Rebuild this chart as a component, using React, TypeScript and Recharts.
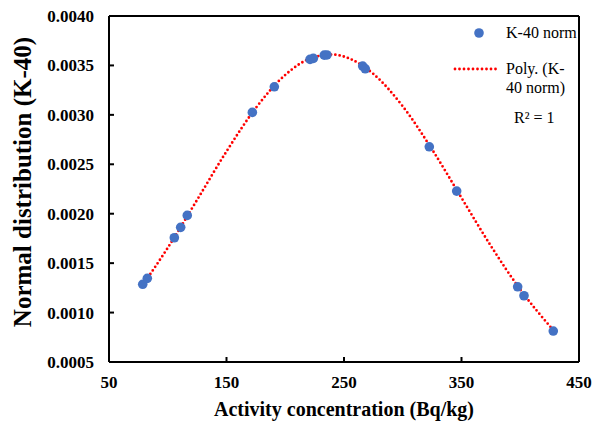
import React from "react";
import {
  ComposedChart,
  Scatter,
  Line,
  XAxis,
  YAxis,
  ReferenceLine,
  Label,
} from "recharts";

// Observed data points (Activity concentration, Normal distribution)
const activity = [78.7, 82.6, 105.6, 111.0, 116.6, 172.0, 190.7, 221.1, 223.9, 233.2, 235.5, 265.9, 268.1, 322.6, 345.9, 397.8, 403.2, 428.1];
const normDist = [0.001286, 0.001346, 0.001757, 0.001862, 0.001983, 0.003025, 0.003284, 0.003561, 0.003571, 0.003604, 0.003606, 0.003493, 0.003466, 0.002677, 0.002229, 0.001261, 0.00117, 0.000813];

// Trend line (Poly.)
const trendX = [79, 100, 125, 150, 175, 200, 225, 240, 255, 275, 300, 325, 350, 375, 400, 428];
const trendY = [0.001283, 0.001655, 0.00214, 0.00263, 0.00307, 0.003404, 0.003586, 0.00361, 0.003568, 0.003414, 0.003086, 0.002649, 0.00216, 0.001674, 0.001233, 0.000824];

const xTicks = [50, 150, 250, 350, 450];
const yTicks = [0.0005, 0.001, 0.0015, 0.002, 0.0025, 0.003, 0.0035, 0.004];

const points = activity.map((x, i) => ({ x, y: normDist[i] }));
const trend = trendX.map((x, i) => ({ x, y: trendY[i] }));

const FONT = "'Liberation Serif', 'Times New Roman', serif";
const BLUE = "#4472C4";
const RED = "#FF0000";

const Dot = (p: any) => <circle cx={p.cx} cy={p.cy} r={4.8} fill={BLUE} />;

export default function App() {
  return (
    <div style={{ position: "fixed", left: 0, top: 0, width: 592, height: 421, background: "#fff" }}>
      <ComposedChart
        width={592}
        height={421}
        margin={{ top: 16, right: 13, left: 0, bottom: 0 }}
      >
        <XAxis
          type="number"
          dataKey="x"
          domain={[50, 450]}
          ticks={xTicks}
          allowDataOverflow
          height={59}
          tickSize={-5}
          tickMargin={19}
          stroke="#000"
          strokeWidth={2}
          tick={{ fill: "#000", fontSize: 17, fontWeight: "bold", fontFamily: FONT }}
        >
          <Label
            content={(props: any) => {
              const vb = props.viewBox;
              return (
                <text
                  x={vb.x + vb.width / 2}
                  y={416}
                  textAnchor="middle"
                  fontSize={20}
                  fontWeight="bold"
                  fontFamily={FONT}
                  fill="#000"
                >
                  Activity concentration (Bq/kg)
                </text>
              );
            }}
          />
        </XAxis>
        <YAxis
          type="number"
          dataKey="y"
          domain={[0.0005, 0.004]}
          ticks={yTicks}
          allowDataOverflow
          width={109}
          tickSize={-5}
          tickMargin={20}
          stroke="#000"
          strokeWidth={2}
          tickFormatter={(v: number) => v.toFixed(4)}
          tick={{ fill: "#000", fontSize: 17, fontWeight: "bold", fontFamily: FONT }}
        >
          <Label
            content={(props: any) => {
              const vb = props.viewBox;
              const cy = vb.y + vb.height / 2 - 7;
              return (
                <text
                  x={31}
                  y={cy}
                  transform={`rotate(-90 31 ${cy})`}
                  textAnchor="middle"
                  fontSize={25}
                  fontWeight="bold"
                  fontFamily={FONT}
                  fill="#000"
                >
                  Normal distribution (K-40)
                </text>
              );
            }}
          />
        </YAxis>
        <ReferenceLine y={0.004} stroke="#000" strokeWidth={2} ifOverflow="extendDomain" />
        <ReferenceLine x={450} stroke="#000" strokeWidth={2} ifOverflow="extendDomain" />
        <Scatter data={points} dataKey="y" shape={Dot} isAnimationActive={false} />
        <Line
          data={trend}
          dataKey="y"
          type="monotone"
          stroke={RED}
          strokeWidth={2.8}
          strokeDasharray="0 4.3"
          strokeLinecap="round"
          dot={false}
          activeDot={false}
          isAnimationActive={false}
        />
      </ComposedChart>
      <div style={{ position: "absolute", left: 440, top: 0, width: 150, height: 140, fontFamily: FONT, fontSize: 16, color: "#000" }}>
        <svg width={150} height={140} style={{ position: "absolute", left: 0, top: 0 }}>
          <circle cx={39} cy={33} r={4.8} fill={BLUE} />
          <line x1={15} x2={60} y1={69} y2={69} stroke={RED} strokeWidth={2.8} strokeDasharray="0 4.5" strokeLinecap="round" />
        </svg>
        <div style={{ position: "absolute", left: 66, top: 23, lineHeight: "19px", whiteSpace: "nowrap" }}>K-40 norm</div>
        <div style={{ position: "absolute", left: 66, top: 59, lineHeight: "19px", whiteSpace: "nowrap" }}>
          Poly. (K-
          <br />
          40 norm)
        </div>
        <div style={{ position: "absolute", left: 74, top: 108, lineHeight: "19px", whiteSpace: "nowrap" }}>
          R² = 1
        </div>
      </div>
    </div>
  );
}
